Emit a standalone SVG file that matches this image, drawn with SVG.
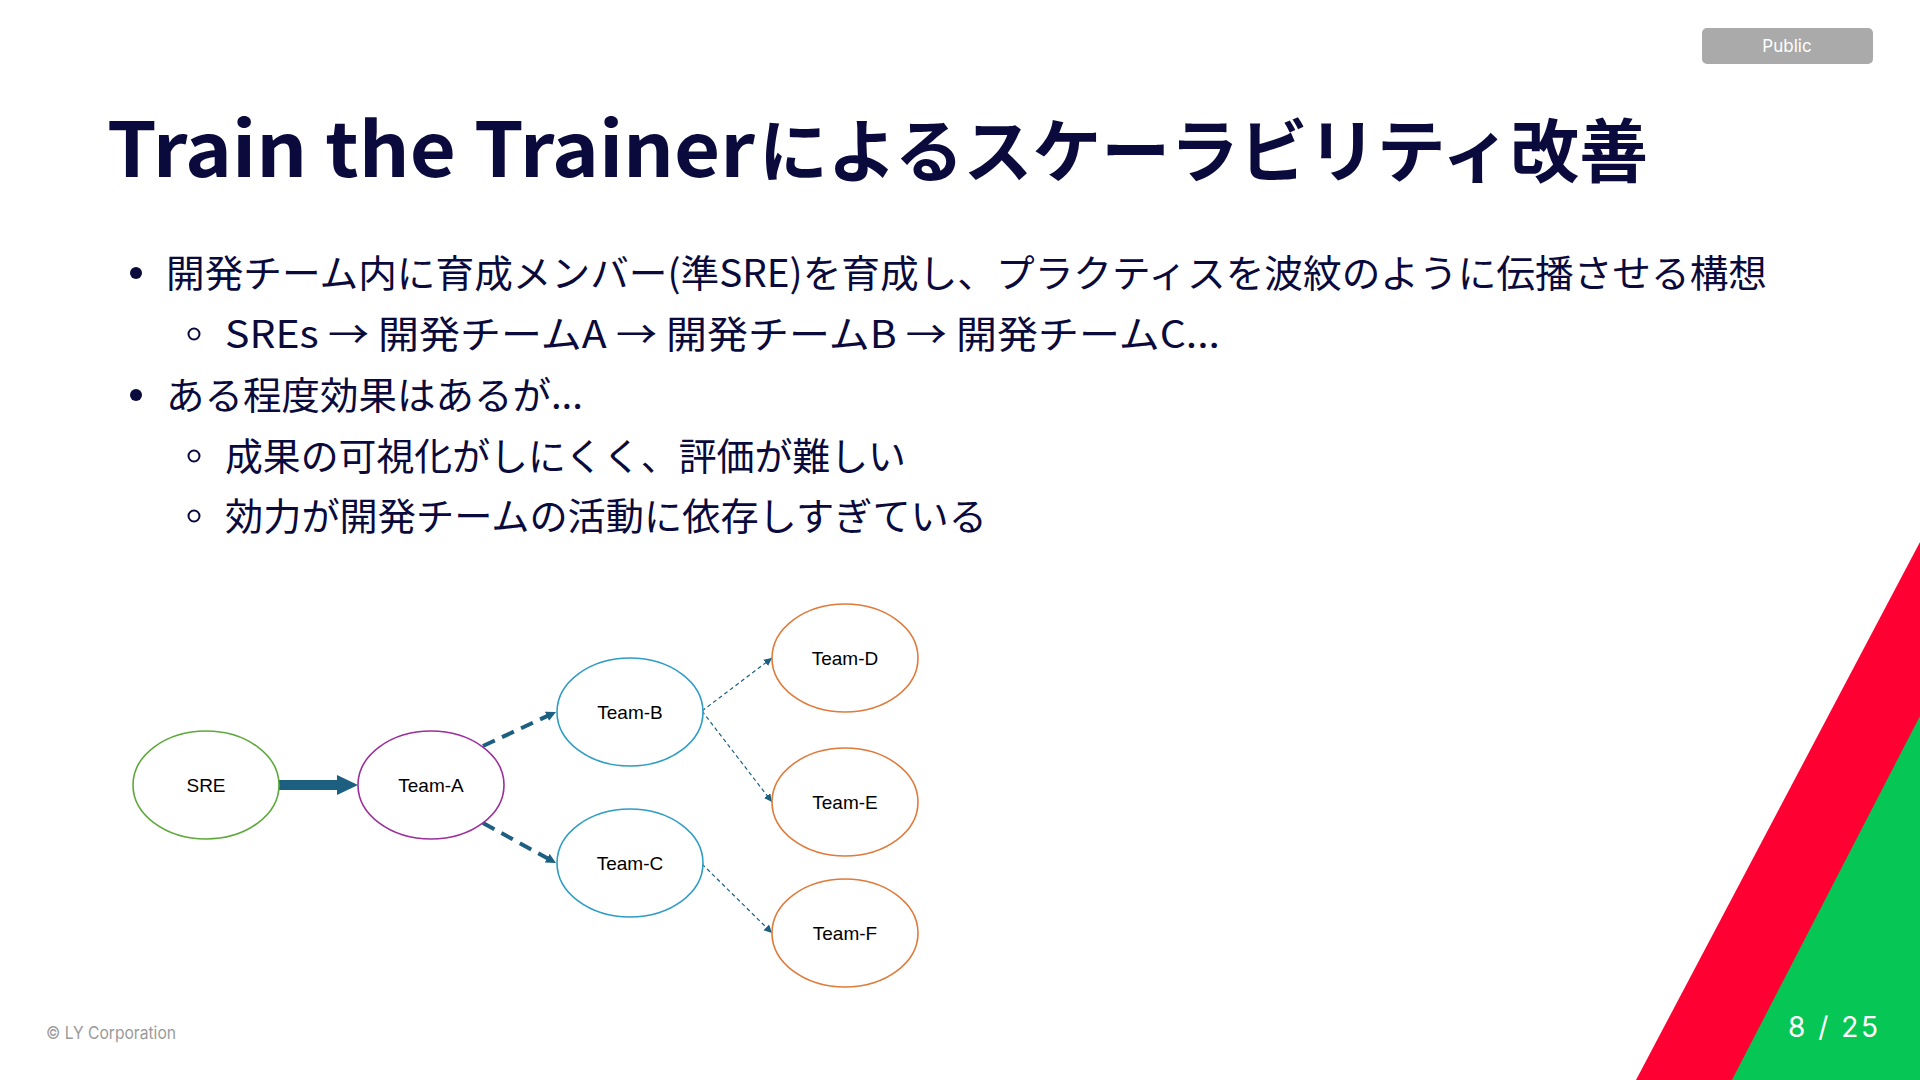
<svg xmlns="http://www.w3.org/2000/svg" width="1920" height="1080" viewBox="0 0 1920 1080">
<style>
.title{font-family:"Noto Sans CJK JP","Noto Sans",sans-serif;font-weight:700;fill:#0a0a3c}
.body{font-family:"Noto Sans CJK JP","Noto Sans",sans-serif;font-size:38px;fill:#0a0a3c}
.lbl{font-family:"Liberation Sans",Arial,sans-serif;font-size:19px;fill:#000;text-anchor:middle}
.node{fill:#fff;stroke-width:1.6}
.green{stroke:#5ea83b}.purple{stroke:#9b2f9b}.blue{stroke:#2e9cc6}.orange{stroke:#e07a3a}
</style>
<defs>
<marker id="ahThick" markerWidth="2.1" markerHeight="2" refX="0" refY="1" orient="auto" markerUnits="strokeWidth"><path d="M0,0 L2.1,1 L0,2 Z" fill="#1d5f80"/></marker>
<marker id="ahMid" markerWidth="12" markerHeight="12" refX="10" refY="5" orient="auto" markerUnits="userSpaceOnUse"><path d="M0,0 L10,5 L0,10 Z" fill="#1d5f80"/></marker>
<marker id="ahThin" markerWidth="10" markerHeight="10" refX="8" refY="4" orient="auto" markerUnits="userSpaceOnUse"><path d="M0,0 L8,4 L0,8 Z" fill="#1d5f80"/></marker>
</defs>
<rect width="1920" height="1080" fill="#fff"/>
<g id="decor">
<polygon points="1920,542 1920,1080 1636,1080" fill="#ff0033"/>
<polygon points="1920,716 1920,1080 1732,1080" fill="#06c755"/>
</g>
<g id="badge">
<rect x="1702" y="28" width="171" height="36" rx="5" fill="#aaaaaa"/>
<text x="1787" y="52" font-family="Inter,'Noto Sans',sans-serif" font-size="17" fill="#fff" text-anchor="middle">Public</text>
</g>
<g id="title">
<text class="title" y="177"><tspan x="107" font-size="75" textLength="648" lengthAdjust="spacingAndGlyphs">Train the Trainer</tspan><tspan x="759" font-size="69" textLength="889" lengthAdjust="spacingAndGlyphs">によるスケーラビリティ改善</tspan></text>
</g>
<g id="bullets">
<circle cx="136" cy="273" r="6" fill="#0a0a3c"/>
<text class="body" x="166" y="287" textLength="1601" lengthAdjust="spacingAndGlyphs">開発チーム内に育成メンバー(準SRE)を育成し、プラクティスを波紋のように伝播させる構想</text>
<circle cx="194" cy="334" r="5.5" fill="none" stroke="#0a0a3c" stroke-width="2"/>
<text class="body" x="225" y="348" textLength="995" lengthAdjust="spacingAndGlyphs">SREs → 開発チームA → 開発チームB → 開発チームC...</text>
<circle cx="136" cy="395" r="6" fill="#0a0a3c"/>
<text class="body" x="166" y="409" textLength="417" lengthAdjust="spacingAndGlyphs">ある程度効果はあるが...</text>
<circle cx="194" cy="456" r="5.5" fill="none" stroke="#0a0a3c" stroke-width="2"/>
<text class="body" x="225" y="470" textLength="681" lengthAdjust="spacingAndGlyphs">成果の可視化がしにくく、評価が難しい</text>
<circle cx="194" cy="516" r="5.5" fill="none" stroke="#0a0a3c" stroke-width="2"/>
<text class="body" x="225" y="530" textLength="762" lengthAdjust="spacingAndGlyphs">効力が開発チームの活動に依存しすぎている</text>
</g>
<g id="connectors" fill="none" stroke="#1d5f80">
<line x1="279" y1="785" x2="337" y2="785" stroke-width="10" marker-end="url(#ahThick)"/>
<line x1="483" y1="746" x2="556" y2="712" stroke-width="4" stroke-dasharray="13,8" marker-end="url(#ahMid)"/>
<line x1="483" y1="823" x2="556" y2="863" stroke-width="4" stroke-dasharray="13,8" marker-end="url(#ahMid)"/>
<line x1="702" y1="711" x2="772" y2="658" stroke-width="1.2" stroke-dasharray="4,3" marker-end="url(#ahThin)"/>
<line x1="702" y1="711" x2="772" y2="802" stroke-width="1.2" stroke-dasharray="4,3" marker-end="url(#ahThin)"/>
<line x1="702" y1="864" x2="772" y2="933" stroke-width="1.2" stroke-dasharray="4,3" marker-end="url(#ahThin)"/>
</g>
<g id="node-sre"><ellipse class="node green" cx="206" cy="785" rx="73" ry="54"/><text class="lbl" x="206" y="792">SRE</text></g>
<g id="node-team-a"><ellipse class="node purple" cx="431" cy="785" rx="73" ry="54"/><text class="lbl" x="431" y="792">Team-A</text></g>
<g id="node-team-b"><ellipse class="node blue" cx="630" cy="712" rx="73" ry="54"/><text class="lbl" x="630" y="719">Team-B</text></g>
<g id="node-team-c"><ellipse class="node blue" cx="630" cy="863" rx="73" ry="54"/><text class="lbl" x="630" y="870">Team-C</text></g>
<g id="node-team-d"><ellipse class="node orange" cx="845" cy="658" rx="73" ry="54"/><text class="lbl" x="845" y="665">Team-D</text></g>
<g id="node-team-e"><ellipse class="node orange" cx="845" cy="802" rx="73" ry="54"/><text class="lbl" x="845" y="809">Team-E</text></g>
<g id="node-team-f"><ellipse class="node orange" cx="845" cy="933" rx="73" ry="54"/><text class="lbl" x="845" y="940">Team-F</text></g>
<g id="footer">
<text x="46" y="1039" font-family="Inter,'Noto Sans',sans-serif" font-size="17" fill="#9a9a9a" textLength="130" lengthAdjust="spacingAndGlyphs">© LY Corporation</text>
<text x="1788" y="1037" font-family="Inter,'Noto Sans',sans-serif" font-size="28" fill="#fff" textLength="90" lengthAdjust="spacing">8 / 25</text>
</g>
</svg>
